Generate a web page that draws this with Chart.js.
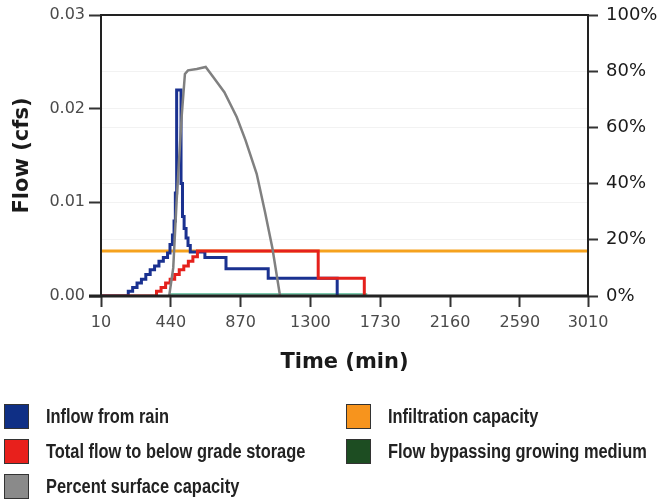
<!DOCTYPE html>
<html lang="en">
<head>
    <meta charset="UTF-8">
    <title>Flow (cfs) vs Time (min)</title>
    <script src="https://cdnjs.cloudflare.com/ajax/libs/Chart.js/4.4.0/chart.umd.min.js"></script>
    <style>
        body { margin: 0; background: #fff; }
        .wrap { position: relative; width: 661px; height: 502px; }
        .legend {
            position: absolute; left: 4px; top: 403px;
            display: grid; grid-template-columns: 342px 300px; grid-auto-rows: 35px;
            font: bold 20px 'Liberation Sans', Arial, sans-serif;
            color: #222;
        }
        .legend-item { display: flex; align-items: center; height: 26px; white-space: nowrap; }
        .legend-box {
            width: 23px; height: 23px; margin-right: 17px; flex: none;
            border: 1.5px solid #333; box-sizing: content-box;
        }
        /* narrow bold look */
        .legend-text { display: inline-block; transform: scaleX(0.82); transform-origin: left center; }
    </style>
</head>
<body>
    <div class="wrap">
        <canvas id="flowChart"></canvas>
        <div class="legend" id="legend"></div>
    </div>

    <script>
        // axis ticks
        const timeTicks = [10, 440, 870, 1300, 1730, 2160, 2590, 3010];
        const flowTicks = [0, 0.01, 0.02, 0.03];
        const percentTicks = [0, 20, 40, 60, 80, 100];

        // inflow from rain (cfs), each value held until the next time
        const inflowTime = [10, 178, 205, 232, 259, 286, 313, 340, 367, 394, 420, 435, 450, 460, 468, 476, 503, 512, 522, 534, 546, 560, 650, 780, 1040, 1465];
        const inflowFlow = [0, 0.0005, 0.0009, 0.0014, 0.0018, 0.0023, 0.0028, 0.0032, 0.0037, 0.0041, 0.0046, 0.0055, 0.0065, 0.0080, 0.0110, 0.0220, 0.0120, 0.0085, 0.0072, 0.0062, 0.0054, 0.0047, 0.0041, 0.0029, 0.0019, 0];

        // total flow to below grade storage (cfs)
        const storageTime = [10, 352, 380, 408, 436, 464, 492, 520, 548, 576, 604, 1348, 1632];
        const storageFlow = [0, 0.0005, 0.0009, 0.0014, 0.0018, 0.0023, 0.0028, 0.0032, 0.0037, 0.0042, 0.0048, 0.0019, 0];

        // infiltration capacity (cfs)
        const infiltrationTime = [10, 3010];
        const infiltrationFlow = [0.0048, 0.0048];

        // flow bypassing growing medium (cfs)
        const bypassTime = [430, 1650];
        const bypassFlow = [0, 0];

        // percent surface capacity (%)
        const surfaceTime = [430, 455, 476, 507, 527, 546, 600, 655, 700, 770, 846, 900, 969, 1020, 1066, 1113];
        const surfacePct = [0, 10, 34, 64, 79, 80.3, 80.8, 81.5, 78, 72.5, 63.7, 55.5, 43.5, 30, 17, 0];

        const pts = (xs, ys) => xs.map((x, i) => ({ x: x, y: ys[i] }));

        const datasets = [
            { label: 'Inflow from rain', data: pts(inflowTime, inflowFlow), borderColor: '#1a3190', swatch: '#0f2f85', stepped: 'before', borderWidth: 3, yAxisID: 'y', order: 2 },
            { label: 'Infiltration capacity', data: pts(infiltrationTime, infiltrationFlow), borderColor: '#f5a21e', swatch: '#f7941d', borderWidth: 3, yAxisID: 'y', order: 4 },
            { label: 'Total flow to below grade storage', data: pts(storageTime, storageFlow), borderColor: '#e5211c', swatch: '#e8201c', stepped: 'before', borderWidth: 3, yAxisID: 'y', order: 1 },
            { label: 'Flow bypassing growing medium', data: pts(bypassTime, bypassFlow), borderColor: 'rgba(70,180,140,0.7)', swatch: '#1d4d22', borderWidth: 6, yAxisID: 'y', order: 3 },
            { label: 'Percent surface capacity', data: pts(surfaceTime, surfacePct), borderColor: '#808080', swatch: '#8a8a8a', borderWidth: 2.5, yAxisID: 'y1', order: 0 }
        ];

        // box round the plot area, bottom axis a bit heavier
        const frame = {
            id: 'frame',
            afterDatasetsDraw(chart) {
                const { ctx, chartArea: a } = chart;
                ctx.save();
                ctx.strokeStyle = '#222';
                ctx.lineWidth = 2;
                ctx.strokeRect(a.left, a.top, a.right - a.left, a.bottom - a.top);
                ctx.lineWidth = 3;
                ctx.beginPath();
                ctx.moveTo(a.left - 12, a.bottom);
                ctx.lineTo(a.right, a.bottom);
                ctx.stroke();
                ctx.restore();
            }
        };

        // fixed axis sizes so the plot box sits where it should
        const fitWidth = w => s => { s.width = w; s.paddingTop = 0; s.paddingBottom = 0; };

        const tickFont = { family: 'DejaVu Sans', size: 16 };
        const titleFont = { family: 'DejaVu Sans', size: 21, weight: 'bold' };

        const chart = new Chart(document.getElementById('flowChart'), {
            type: 'line',
            data: { datasets: datasets },
            plugins: [frame],
            options: {
                responsive: true,
                maintainAspectRatio: false,
                animation: false,
                layout: { padding: { top: 15, left: 0, right: 0, bottom: 112 } },
                elements: { point: { radius: 0 }, line: { tension: 0, fill: false } },
                plugins: { legend: { display: false }, tooltip: { enabled: false } },
                scales: {
                    x: {
                        type: 'linear', min: 10, max: 3010,
                        afterBuildTicks: s => { s.ticks = timeTicks.map(v => ({ value: v })); },
                        afterFit: s => { s.height = 94; },
                        ticks: { font: tickFont, color: '#4a4a4a', padding: 6, maxRotation: 0, autoSkip: false, callback: v => String(v) },
                        grid: { drawOnChartArea: false, tickLength: 11, tickColor: '#333', tickWidth: 2 },
                        border: { display: false },
                        title: { display: true, text: 'Time (min)', font: titleFont, color: '#1a1a1a', padding: { top: 0, bottom: 15 } }
                    },
                    y: {
                        position: 'left', min: 0, max: 0.03,
                        afterBuildTicks: s => { s.ticks = flowTicks.map(v => ({ value: v })); },
                        afterFit: fitWidth(101),
                        ticks: { font: tickFont, color: '#4a4a4a', padding: 4, callback: v => v.toFixed(2) },
                        grid: { color: 'rgba(0,0,0,0.05)', tickColor: '#333', tickWidth: 2, tickLength: 12 },
                        border: { display: false },
                        title: { display: true, text: 'Flow (cfs)', font: titleFont, color: '#1a1a1a', padding: { top: 10, bottom: 0 } }
                    },
                    y1: {
                        position: 'right', min: 0, max: 100,
                        afterBuildTicks: s => { s.ticks = percentTicks.map(v => ({ value: v })); },
                        afterFit: fitWidth(73),
                        ticks: { font: { family: 'DejaVu Sans', size: 18 }, color: '#1a1a1a', padding: 8, callback: v => v + '%' },
                        grid: { color: 'rgba(0,0,0,0.05)', tickColor: '#333', tickWidth: 2, tickLength: 10 },
                        border: { display: false }
                    }
                }
            }
        });

        // legend in two columns, filled row by row
        const legend = document.getElementById('legend');
        chart.data.datasets.forEach(ds => {
            const item = document.createElement('div');
            item.className = 'legend-item';
            const box = document.createElement('span');
            box.className = 'legend-box';
            box.style.background = ds.swatch;
            const text = document.createElement('span');
            text.className = 'legend-text';
            text.textContent = ds.label;
            item.appendChild(box);
            item.appendChild(text);
            legend.appendChild(item);
        });
    </script>
</body>
</html>
